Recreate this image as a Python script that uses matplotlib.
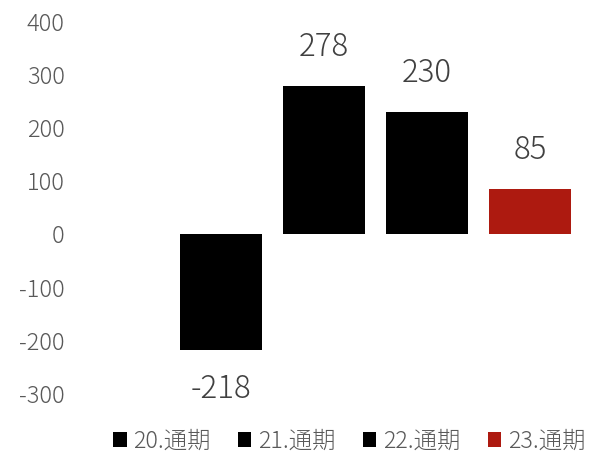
import matplotlib
matplotlib.use("Agg")
import matplotlib.pyplot as plt

plt.rcParams['font.family'] = ['Noto Sans CJK JP', 'DejaVu Sans']
plt.rcParams['font.weight'] = 'light'

periods = ["20.通期", "21.通期", "22.通期", "23.通期"]
values = [-218, 278, 230, 85]
colors = ["#000000", "#000000", "#000000", "#AD1A10"]
yticks = [-300, -200, -100, 0, 100, 200, 300, 400]

fig = plt.figure(figsize=(5.9, 4.53), dpi=100)
ax = fig.add_axes([0.112, 0.131, 0.874, 0.8226])

for i, (name, v, c) in enumerate(zip(periods, values, colors)):
    ax.bar(i + 1, v, width=0.79, color=c, label=name)
    off = 28 if v >= 0 else -28
    ax.annotate(f"{v}", xy=(i + 1, v), xytext=(0, off), textcoords="offset points",
                ha="center", va="center", fontsize=22.5, color="#404040")

ax.set_xlim(-0.5, 4.5)
ax.set_ylim(-300, 400)
ax.set_yticks(yticks)
ax.set_yticklabels([str(t) for t in yticks])
ax.tick_params(axis='y', length=0, pad=1, labelsize=17, labelcolor="#595959")
ax.set_xticks([])
for s in ax.spines.values():
    s.set_visible(False)

fig.legend(loc="center", bbox_to_anchor=(0.592, 0.026), ncol=4, frameon=False,
           fontsize=16.8, handlelength=0.58, handleheight=0.58, handletextpad=0.3,
           columnspacing=1.15, labelcolor="#595959", borderaxespad=0, borderpad=0)

fig.savefig("out.png", dpi=100)
